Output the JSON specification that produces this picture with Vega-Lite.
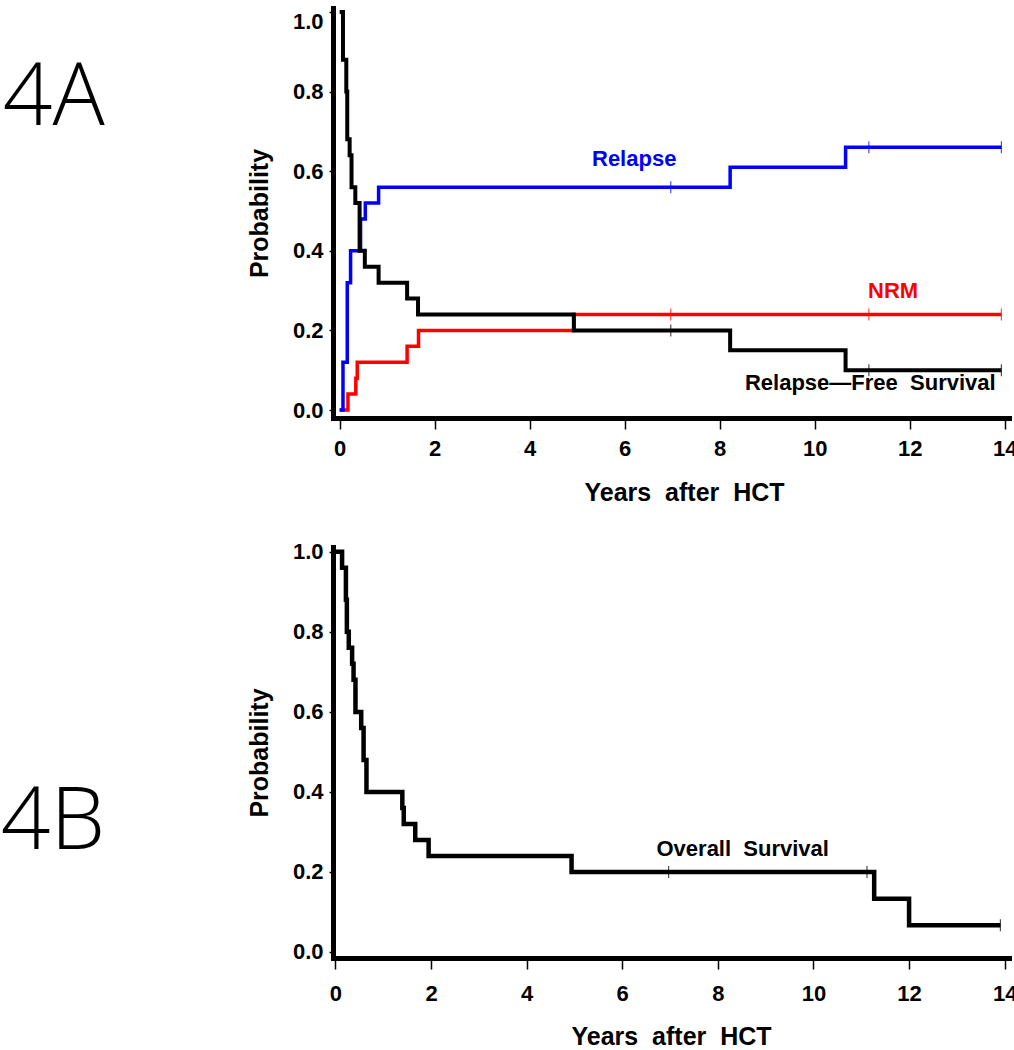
{
  "$schema": "https://vega.github.io/schema/vega-lite/v6.json",
  "background": "white",
  "padding": {"left": 0, "top": 3, "right": 0, "bottom": 0},
  "spacing": 35,
  "config": {
    "view": {"stroke": null},
    "axis": {
      "grid": false,
      "domainColor": "black",
      "domainWidth": 5,
      "domainCap": "square",
      "tickColor": "black",
      "tickWidth": 1.5,
      "labelFont": "Liberation Sans",
      "labelFontWeight": "bold",
      "labelFontSize": 22,
      "labelColor": "black",
      "titleFont": "Liberation Sans",
      "titleFontWeight": "bold",
      "titleFontSize": 25,
      "titleColor": "black"
    },
    "axisX": {"tickSize": 11, "labelPadding": 14, "titlePadding": 20},
    "axisY": {"tickSize": 4, "labelPadding": 6, "titlePadding": 20}
  },
  "datasets": {
    "topLines": [
      {"s": "RFS", "t": 0, "p": 1.0},
      {"s": "RFS", "t": 0.07, "p": 0.88},
      {"s": "RFS", "t": 0.14, "p": 0.80},
      {"s": "RFS", "t": 0.16, "p": 0.68},
      {"s": "RFS", "t": 0.21, "p": 0.64},
      {"s": "RFS", "t": 0.25, "p": 0.56},
      {"s": "RFS", "t": 0.33, "p": 0.52},
      {"s": "RFS", "t": 0.42, "p": 0.40},
      {"s": "RFS", "t": 0.53, "p": 0.36},
      {"s": "RFS", "t": 0.82, "p": 0.32},
      {"s": "RFS", "t": 1.42, "p": 0.28},
      {"s": "RFS", "t": 1.65, "p": 0.24},
      {"s": "RFS", "t": 4.93, "p": 0.20},
      {"s": "RFS", "t": 8.22, "p": 0.15},
      {"s": "RFS", "t": 10.65, "p": 0.10},
      {"s": "RFS", "t": 13.93, "p": 0.10},
      {"s": "Relapse", "t": 0, "p": 0.0},
      {"s": "Relapse", "t": 0.07, "p": 0.12},
      {"s": "Relapse", "t": 0.16, "p": 0.32},
      {"s": "Relapse", "t": 0.23, "p": 0.40},
      {"s": "Relapse", "t": 0.44, "p": 0.48},
      {"s": "Relapse", "t": 0.54, "p": 0.52},
      {"s": "Relapse", "t": 0.82, "p": 0.56},
      {"s": "Relapse", "t": 8.22, "p": 0.61},
      {"s": "Relapse", "t": 10.65, "p": 0.66},
      {"s": "Relapse", "t": 13.93, "p": 0.66},
      {"s": "NRM", "t": 0, "p": 0.0},
      {"s": "NRM", "t": 0.175, "p": 0.04},
      {"s": "NRM", "t": 0.34, "p": 0.08},
      {"s": "NRM", "t": 0.37, "p": 0.12},
      {"s": "NRM", "t": 1.42, "p": 0.16},
      {"s": "NRM", "t": 1.66, "p": 0.20},
      {"s": "NRM", "t": 4.93, "p": 0.24},
      {"s": "NRM", "t": 13.93, "p": 0.24}
    ],
    "topCens": [
      {"s": "Relapse", "t": 6.97, "p": 0.56},
      {"s": "Relapse", "t": 11.14, "p": 0.66},
      {"s": "Relapse", "t": 13.93, "p": 0.66},
      {"s": "NRM", "t": 6.97, "p": 0.24},
      {"s": "NRM", "t": 11.14, "p": 0.24},
      {"s": "NRM", "t": 13.93, "p": 0.24},
      {"s": "RFS", "t": 6.97, "p": 0.20},
      {"s": "RFS", "t": 11.14, "p": 0.10},
      {"s": "RFS", "t": 13.93, "p": 0.10}
    ],
    "topLab": [
      {"s": "Relapse", "label": "Relapse", "t": 6.2, "p": 0.612},
      {"s": "NRM", "label": "NRM", "t": 11.65, "p": 0.282},
      {"s": "RFS", "label": "Relapse\u2014Free\u00a0 Survival", "t": 11.17, "p": 0.05}
    ],
    "topPanel": [
      {"label": "4A", "t": -7.09, "p": 0.716}
    ],
    "botLines": [
      {"s": "OS", "t": 0, "p": 1.0},
      {"s": "OS", "t": 0.14, "p": 0.96},
      {"s": "OS", "t": 0.22, "p": 0.88},
      {"s": "OS", "t": 0.24, "p": 0.80},
      {"s": "OS", "t": 0.28, "p": 0.76},
      {"s": "OS", "t": 0.35, "p": 0.72},
      {"s": "OS", "t": 0.38, "p": 0.68},
      {"s": "OS", "t": 0.42, "p": 0.60},
      {"s": "OS", "t": 0.54, "p": 0.56},
      {"s": "OS", "t": 0.59, "p": 0.48},
      {"s": "OS", "t": 0.65, "p": 0.40},
      {"s": "OS", "t": 1.40, "p": 0.36},
      {"s": "OS", "t": 1.43, "p": 0.32},
      {"s": "OS", "t": 1.67, "p": 0.28},
      {"s": "OS", "t": 1.95, "p": 0.24},
      {"s": "OS", "t": 4.94, "p": 0.20},
      {"s": "OS", "t": 11.27, "p": 0.133},
      {"s": "OS", "t": 12.0, "p": 0.067},
      {"s": "OS", "t": 13.91, "p": 0.067}
    ],
    "botCens": [
      {"s": "OS", "t": 6.97, "p": 0.20},
      {"s": "OS", "t": 11.12, "p": 0.20},
      {"s": "OS", "t": 13.91, "p": 0.067}
    ],
    "botLab": [
      {"s": "OS", "label": "Overall\u00a0 Survival", "t": 8.52, "p": 0.24}
    ],
    "botPanel": [
      {"label": "4B", "t": -7.0, "p": 0.2575}
    ]
  },
  "vconcat": [
    {
      "width": 676,
      "height": 410,
      "encoding": {
        "x": {
          "field": "t", "type": "quantitative",
          "scale": {"domain": [-0.14, 14.09], "nice": false, "zero": false},
          "axis": {"values": [0, 2, 4, 6, 8, 10, 12, 14], "format": "d", "title": "Years\u00a0 after\u00a0 HCT", "titleX": 351, "labelPadding": 9, "titlePadding": 21}
        },
        "y": {
          "field": "p", "type": "quantitative",
          "scale": {"domain": [-0.02, 1.01], "nice": false, "zero": false},
          "axis": {"values": [0, 0.2, 0.4, 0.6, 0.8, 1.0], "format": ".1f", "title": "Probability", "labelFlush": 5}
        }
      },
      "layer": [
        {
          "data": {"name": "topLines"},
          "transform": [{"filter": "datum.s === 'NRM'"}],
          "mark": {"type": "line", "interpolate": "step-after", "strokeWidth": 3.5},
          "encoding": {"color": {"field": "s", "type": "nominal", "scale": {"domain": ["NRM", "Relapse", "RFS", "OS"], "range": ["#ff0000", "#0000ff", "#000000", "#000000"]}, "legend": null}}
        },
        {
          "data": {"name": "topLines"},
          "transform": [{"filter": "datum.s === 'Relapse'"}],
          "mark": {"type": "line", "interpolate": "step-after", "strokeWidth": 3.5},
          "encoding": {"color": {"field": "s", "type": "nominal", "legend": null}}
        },
        {
          "data": {"name": "topLines"},
          "transform": [{"filter": "datum.s === 'RFS'"}],
          "mark": {"type": "line", "interpolate": "step-after", "strokeWidth": 4},
          "encoding": {"color": {"field": "s", "type": "nominal", "legend": null}}
        },
        {
          "data": {"name": "topCens"},
          "mark": {"type": "tick", "orient": "vertical", "size": 12, "thickness": 1.2},
          "encoding": {"color": {"field": "s", "type": "nominal", "legend": null}}
        },
        {
          "data": {"name": "topLab"},
          "mark": {"type": "text", "font": "Liberation Sans", "fontWeight": "bold", "fontSize": 22, "align": "center", "baseline": "alphabetic"},
          "encoding": {"text": {"field": "label"}, "color": {"field": "s", "type": "nominal", "legend": null}}
        },
        {
          "data": {"name": "topPanel"},
          "mark": {"type": "text", "font": "Open Sans", "fontWeight": 300, "fontSize": 87, "align": "left", "baseline": "alphabetic", "color": "black"},
          "encoding": {"text": {"field": "label"}}
        }
      ]
    },
    {
      "width": 676,
      "height": 411,
      "encoding": {
        "x": {
          "field": "t", "type": "quantitative",
          "scale": {"domain": [-0.05, 14.09], "nice": false, "zero": false},
          "axis": {"values": [0, 2, 4, 6, 8, 10, 12, 14], "format": "d", "title": "Years\u00a0 after\u00a0 HCT"}
        },
        "y": {
          "field": "p", "type": "quantitative",
          "scale": {"domain": [-0.015, 1.012], "nice": false, "zero": false},
          "axis": {"values": [0, 0.2, 0.4, 0.6, 0.8, 1.0], "format": ".1f", "title": "Probability"}
        }
      },
      "layer": [
        {
          "data": {"name": "botLines"},
          "mark": {"type": "line", "interpolate": "step-after", "strokeWidth": 4.5},
          "encoding": {"color": {"field": "s", "type": "nominal", "scale": {"domain": ["NRM", "Relapse", "RFS", "OS"], "range": ["#ff0000", "#0000ff", "#000000", "#000000"]}, "legend": null}}
        },
        {
          "data": {"name": "botCens"},
          "mark": {"type": "tick", "orient": "vertical", "size": 12, "thickness": 1.2},
          "encoding": {"color": {"field": "s", "type": "nominal", "legend": null}}
        },
        {
          "data": {"name": "botLab"},
          "mark": {"type": "text", "font": "Liberation Sans", "fontWeight": "bold", "fontSize": 22, "align": "center", "baseline": "alphabetic"},
          "encoding": {"text": {"field": "label"}, "color": {"field": "s", "type": "nominal", "legend": null}}
        },
        {
          "data": {"name": "botPanel"},
          "mark": {"type": "text", "font": "Open Sans", "fontWeight": 300, "fontSize": 87, "align": "left", "baseline": "alphabetic", "color": "black"},
          "encoding": {"text": {"field": "label"}}
        }
      ]
    }
  ]
}
